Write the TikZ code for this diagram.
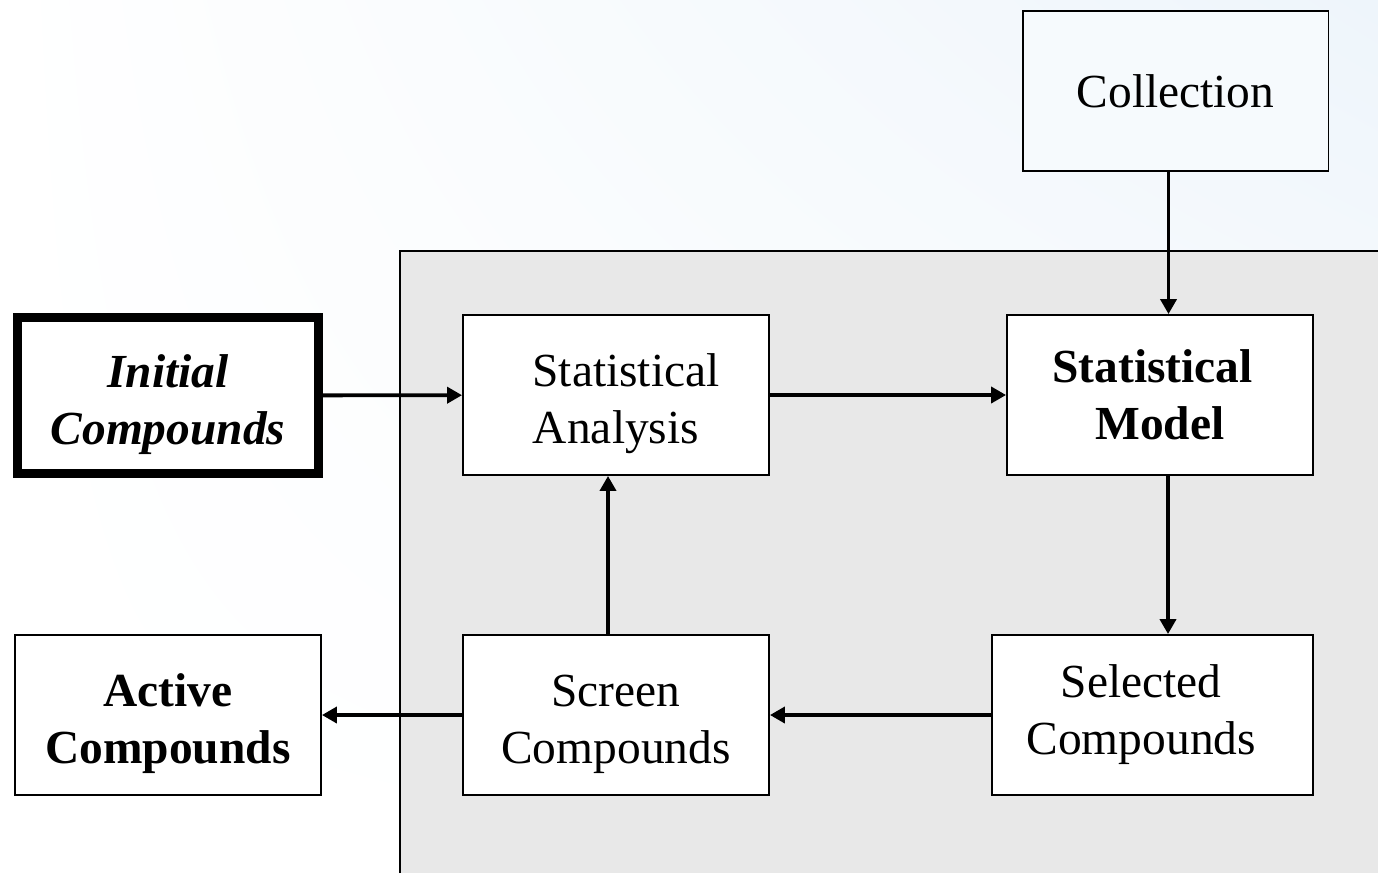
\documentclass[tikz,border=0pt]{standalone}
\usepackage{fontspec}
\setmainfont{Liberation Serif}
\usepackage{tikz}
\newcommand{\boxwidth}{6.12cm}
\newcommand{\boxheight}{3.2cm}
\newcommand{\tallstrut}{\rule{0pt}{29pt}}
\definecolor{panelGray}{RGB}{232,232,232}
\definecolor{paleBlue}{RGB}{238,245,251}
\definecolor{collFill}{RGB}{246,250,253}
\usetikzlibrary{arrows.meta,calc,positioning,shadings}
\tikzset{
  >={Triangle[length=0.3cm,width=0.32cm]},
  font=\fontsize{27}{32.4}\selectfont,
  rect/.style={draw,fill=white,shape=rectangle,line width=1.1pt,minimum width=\boxwidth,minimum height=\boxheight,align=center,inner sep=1mm},
  thickrect/.style={rect,line width=5pt,minimum width=6.02cm,minimum height=3.12cm},
  line/.style={draw,->,line width=2.2pt},
}
\begin{document}
\begin{tikzpicture}[x=0.02cm,y=-0.02cm]
  \useasboundingbox (0,0) rectangle (1378,873);
  % background
  \shade[upper right=paleBlue,upper left=white,lower left=white,lower right=white] (0,0) rectangle (1378,873);
  \fill[panelGray] (400,251) rectangle (1378,873);
  \draw[line width=1.1pt] (400,873) -- (400,251) -- (1378,251);
  % boxes
  \node (col) [rect,fill=collFill] at (1175.5,91) {Collection};
  \node (ini) [thickrect] at (168,395.5) {\tallstrut\textbf{\textit{Initial}}\\\textbf{\textit{Compounds}}};
  \node (ana) [rect] at (616,395) {\tallstrut\hspace*{0.4cm}Statistical\\Analysis};
  \node (mod) [rect] at (1160,395) {\textbf{Statistical}\hspace*{0.3cm}\\\textbf{Model}};
  \node (act) [rect] at (168,715) {\tallstrut\textbf{Active}\\\textbf{Compounds}};
  \node (scr) [rect] at (616,715) {\tallstrut Screen\\Compounds};
  \node (sel) [rect,minimum width=6.42cm] at (1152.5,715) {Selected\hspace*{0.45cm}\\Compounds\hspace*{0.45cm}};
  % connectors
  \coordinate (c1) at ($(col.south)+(-0.14cm,0)$);
  \coordinate (m1) at ($(mod.south)+(0.16cm,0)$);
  \coordinate (s1) at ($(scr.north)+(-0.16cm,0)$);
  \path [line] (c1) -- (c1 |- mod.north);
  \path [line] (ini) -- (ana);
  \path [line] (ana) -- (mod);
  \path [line] (m1) -- (m1 |- sel.north);
  \path [line] (sel) -- (scr);
  \path [line] (s1) -- (s1 |- ana.south);
  \path [line] (scr) -- (act);
\end{tikzpicture}
\end{document}
